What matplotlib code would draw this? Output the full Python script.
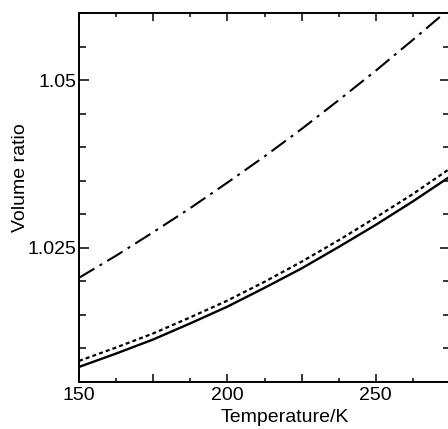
import numpy as np
import matplotlib
matplotlib.use('Agg')
import matplotlib.pyplot as plt
from matplotlib.ticker import MultipleLocator, FuncFormatter

plt.rcParams['font.family'] = ['Liberation Sans', 'DejaVu Sans']

# temperature grid (K) and volume ratios
temperature = [150, 162.5, 175, 187.5, 200, 212.5, 225, 237.5, 250, 262.5, 275]
ratio_solid = [1.0072, 1.0092, 1.0113, 1.0137, 1.0162, 1.0190, 1.0219, 1.0251, 1.0284, 1.0319, 1.0356]
ratio_dotted = [1.0081, 1.0101, 1.0122, 1.0146, 1.0171, 1.0199, 1.0229, 1.0261, 1.0295, 1.0330, 1.0368]
ratio_dashdot = [1.0205, 1.0238, 1.0273, 1.0309, 1.0347, 1.0386, 1.0427, 1.0470, 1.0514, 1.0560, 1.0607]

fig = plt.figure(figsize=(4.48, 4.29), dpi=100)
ax = fig.add_axes([79/448, 47.3/429, 371/448, 368.7/429])

ax.plot(temperature, ratio_solid, color='black', lw=1.7, ls='-')
ax.plot(temperature, ratio_dotted, color='black', lw=1.6, ls=(0, (1.8, 1.4)))
ax.plot(temperature, ratio_dashdot, color='black', lw=1.5, ls=(0, (8.6, 2.9, 1.4, 2.9)))

ax.set_xlim(150, 275)
ax.set_ylim(1.005, 1.06)

ax.xaxis.set_major_locator(MultipleLocator(25))
ax.xaxis.set_minor_locator(MultipleLocator(12.5))
ax.xaxis.set_major_formatter(FuncFormatter(lambda v, p: '%d' % v if v % 50 == 0 else ''))
ax.yaxis.set_major_locator(MultipleLocator(0.025))
ax.yaxis.set_minor_locator(MultipleLocator(0.005))
ax.yaxis.set_major_formatter(FuncFormatter(lambda v, p: ('%.3f' % v).rstrip('0')))

for s in ax.spines.values():
    s.set_linewidth(1.4)

ax.tick_params(axis='both', which='both', direction='in', top=True, right=True,
               width=1.1, labelsize=14)
ax.tick_params(axis='x', which='major', length=5.5, pad=4)
ax.tick_params(axis='x', which='minor', length=3)
ax.tick_params(axis='y', which='major', length=7, pad=2)
ax.tick_params(axis='y', which='minor', length=5)

ax.set_xlabel('Temperature/K', fontsize=14)
ax.set_ylabel('Volume ratio', fontsize=14)
ax.xaxis.set_label_coords(0.555, -0.075)
ax.yaxis.set_label_coords(-0.135, 0.554)

fig.savefig('out.png', dpi=100)
